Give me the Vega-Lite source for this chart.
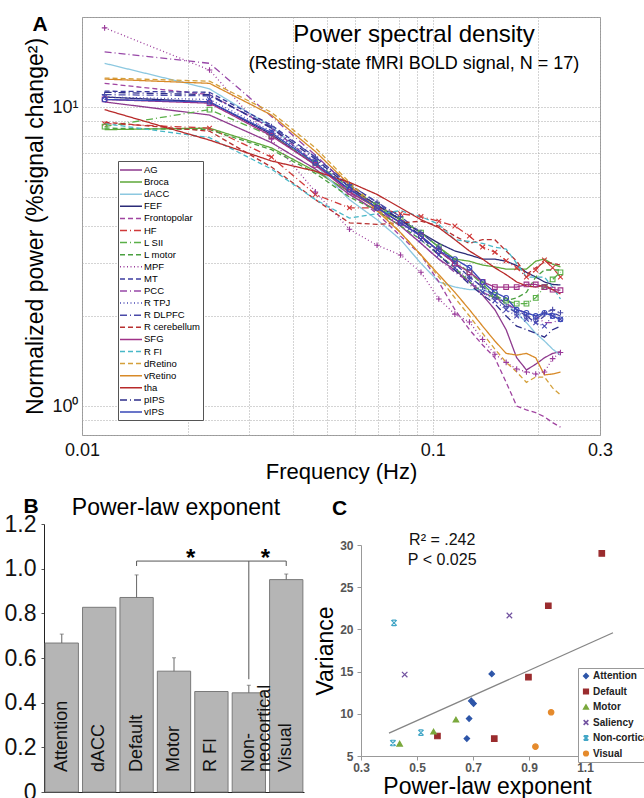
{
"$schema": "https://vega.github.io/schema/vega-lite/v6.json",
"padding": {"left": 2, "top": 7, "right": 0, "bottom": 0},
"background": "white",
"config": {"font": "Liberation Sans", "view": {"stroke": null}, "title": {"color": "black", "fontWeight": "normal"}, "axis": {"labelColor": "#111", "titleColor": "black", "titleFontWeight": "normal", "labelOverlap": false, "labelFlush": false}},
"datasets": {
"psd": [
{"r":"AG","f":0.0116,"p":10.4},{"r":"AG","f":0.0231,"p":9.4},{"r":"AG","f":0.0347,"p":7.6},{"r":"AG","f":0.0463,"p":6.2},{"r":"AG","f":0.0579,"p":5.1},{"r":"AG","f":0.0694,"p":4.5},{"r":"AG","f":0.081,"p":4.0},{"r":"AG","f":0.0926,"p":3.5},{"r":"AG","f":0.1041,"p":3.1},{"r":"AG","f":0.1157,"p":2.85},{"r":"AG","f":0.1273,"p":2.6},{"r":"AG","f":0.1388,"p":2.35},{"r":"AG","f":0.1504,"p":2.1},{"r":"AG","f":0.162,"p":1.8},{"r":"AG","f":0.1736,"p":1.45},{"r":"AG","f":0.1851,"p":1.32},{"r":"AG","f":0.1967,"p":1.38},{"r":"AG","f":0.2083,"p":1.45},{"r":"AG","f":0.2198,"p":1.5},{"r":"AG","f":0.2314,"p":1.52},
{"r":"Broca","f":0.0116,"p":8.4},{"r":"Broca","f":0.0231,"p":8.5},{"r":"Broca","f":0.0347,"p":7.3},{"r":"Broca","f":0.0463,"p":6.1},{"r":"Broca","f":0.0579,"p":5.2},{"r":"Broca","f":0.0694,"p":4.6},{"r":"Broca","f":0.081,"p":4.2},{"r":"Broca","f":0.0926,"p":3.8},{"r":"Broca","f":0.1041,"p":3.4},{"r":"Broca","f":0.1157,"p":3.1},{"r":"Broca","f":0.1273,"p":3.05},{"r":"Broca","f":0.1388,"p":2.96},{"r":"Broca","f":0.1504,"p":2.92},{"r":"Broca","f":0.162,"p":2.87},{"r":"Broca","f":0.1736,"p":2.87},{"r":"Broca","f":0.1851,"p":2.87},{"r":"Broca","f":0.1967,"p":3.05},{"r":"Broca","f":0.2083,"p":3.1},{"r":"Broca","f":0.2198,"p":2.98},{"r":"Broca","f":0.2314,"p":2.92},
{"r":"dACC","f":0.0116,"p":14.0},{"r":"dACC","f":0.0231,"p":11.5},{"r":"dACC","f":0.0347,"p":8.6},{"r":"dACC","f":0.0463,"p":6.4},{"r":"dACC","f":0.0579,"p":4.9},{"r":"dACC","f":0.0694,"p":4.2},{"r":"dACC","f":0.081,"p":3.6},{"r":"dACC","f":0.0926,"p":3.0},{"r":"dACC","f":0.1041,"p":2.6},{"r":"dACC","f":0.1157,"p":2.5},{"r":"dACC","f":0.1273,"p":2.45},{"r":"dACC","f":0.1388,"p":2.45},{"r":"dACC","f":0.1504,"p":2.35},{"r":"dACC","f":0.162,"p":2.2},{"r":"dACC","f":0.1736,"p":2.05},{"r":"dACC","f":0.1851,"p":1.9},{"r":"dACC","f":0.1967,"p":1.75},{"r":"dACC","f":0.2083,"p":1.65},{"r":"dACC","f":0.2198,"p":1.55},{"r":"dACC","f":0.2314,"p":1.48},
{"r":"FEF","f":0.0116,"p":10.8},{"r":"FEF","f":0.0231,"p":10.4},{"r":"FEF","f":0.0347,"p":8.1},{"r":"FEF","f":0.0463,"p":6.4},{"r":"FEF","f":0.0579,"p":5.3},{"r":"FEF","f":0.0694,"p":4.7},{"r":"FEF","f":0.081,"p":4.2},{"r":"FEF","f":0.0926,"p":3.8},{"r":"FEF","f":0.1041,"p":3.5},{"r":"FEF","f":0.1157,"p":3.3},{"r":"FEF","f":0.1273,"p":3.2},{"r":"FEF","f":0.1388,"p":3.1},{"r":"FEF","f":0.1504,"p":3.1},{"r":"FEF","f":0.162,"p":3.05},{"r":"FEF","f":0.1736,"p":2.95},{"r":"FEF","f":0.1851,"p":2.8},{"r":"FEF","f":0.1967,"p":2.7},{"r":"FEF","f":0.2083,"p":2.6},{"r":"FEF","f":0.2198,"p":2.55},{"r":"FEF","f":0.2314,"p":2.54},
{"r":"Frontopolar","f":0.0116,"p":12.0},{"r":"Frontopolar","f":0.0231,"p":11.0},{"r":"Frontopolar","f":0.0347,"p":8.5},{"r":"Frontopolar","f":0.0463,"p":6.5},{"r":"Frontopolar","f":0.0579,"p":5.2},{"r":"Frontopolar","f":0.0694,"p":4.4},{"r":"Frontopolar","f":0.081,"p":3.7},{"r":"Frontopolar","f":0.0926,"p":3.2},{"r":"Frontopolar","f":0.1041,"p":2.6},{"r":"Frontopolar","f":0.1157,"p":2.1},{"r":"Frontopolar","f":0.1273,"p":1.8},{"r":"Frontopolar","f":0.1388,"p":1.6},{"r":"Frontopolar","f":0.1504,"p":1.45},{"r":"Frontopolar","f":0.162,"p":1.2},{"r":"Frontopolar","f":0.1736,"p":1.0},{"r":"Frontopolar","f":0.1851,"p":0.97},{"r":"Frontopolar","f":0.1967,"p":0.95},{"r":"Frontopolar","f":0.2083,"p":0.92},{"r":"Frontopolar","f":0.2198,"p":0.88},{"r":"Frontopolar","f":0.2314,"p":0.85},
{"r":"HF","f":0.0116,"p":8.8},{"r":"HF","f":0.0231,"p":8.5},{"r":"HF","f":0.0347,"p":6.8},{"r":"HF","f":0.0463,"p":5.1},{"r":"HF","f":0.0579,"p":4.6},{"r":"HF","f":0.0694,"p":4.6},{"r":"HF","f":0.081,"p":4.4},{"r":"HF","f":0.0926,"p":4.3},{"r":"HF","f":0.1041,"p":4.15},{"r":"HF","f":0.1157,"p":4.0},{"r":"HF","f":0.1273,"p":3.7},{"r":"HF","f":0.1388,"p":3.4},{"r":"HF","f":0.1504,"p":3.27},{"r":"HF","f":0.162,"p":3.06},{"r":"HF","f":0.1736,"p":2.9},{"r":"HF","f":0.1851,"p":2.7},{"r":"HF","f":0.1967,"p":2.85},{"r":"HF","f":0.2083,"p":3.08},{"r":"HF","f":0.2198,"p":2.9},{"r":"HF","f":0.2314,"p":2.7},
{"r":"L SII","f":0.0116,"p":8.6},{"r":"L SII","f":0.0231,"p":9.8},{"r":"L SII","f":0.0347,"p":8.0},{"r":"L SII","f":0.0463,"p":6.5},{"r":"L SII","f":0.0579,"p":5.4},{"r":"L SII","f":0.0694,"p":4.7},{"r":"L SII","f":0.081,"p":4.2},{"r":"L SII","f":0.0926,"p":3.8},{"r":"L SII","f":0.1041,"p":3.4},{"r":"L SII","f":0.1157,"p":3.05},{"r":"L SII","f":0.1273,"p":2.8},{"r":"L SII","f":0.1388,"p":2.55},{"r":"L SII","f":0.1504,"p":2.35},{"r":"L SII","f":0.162,"p":2.25},{"r":"L SII","f":0.1736,"p":2.2},{"r":"L SII","f":0.1851,"p":2.2},{"r":"L SII","f":0.1967,"p":2.3},{"r":"L SII","f":0.2083,"p":2.5},{"r":"L SII","f":0.2198,"p":2.65},{"r":"L SII","f":0.2314,"p":2.8},
{"r":"L motor","f":0.0116,"p":8.5},{"r":"L motor","f":0.0231,"p":8.4},{"r":"L motor","f":0.0347,"p":7.2},{"r":"L motor","f":0.0463,"p":6.0},{"r":"L motor","f":0.0579,"p":5.0},{"r":"L motor","f":0.0694,"p":4.5},{"r":"L motor","f":0.081,"p":4.0},{"r":"L motor","f":0.0926,"p":3.6},{"r":"L motor","f":0.1041,"p":3.2},{"r":"L motor","f":0.1157,"p":2.9},{"r":"L motor","f":0.1273,"p":2.6},{"r":"L motor","f":0.1388,"p":2.4},{"r":"L motor","f":0.1504,"p":2.3},{"r":"L motor","f":0.162,"p":2.25},{"r":"L motor","f":0.1736,"p":2.3},{"r":"L motor","f":0.1851,"p":2.4},{"r":"L motor","f":0.1967,"p":2.7},{"r":"L motor","f":0.2083,"p":2.85},{"r":"L motor","f":0.2198,"p":2.85},{"r":"L motor","f":0.2314,"p":2.85},
{"r":"MPF","f":0.0116,"p":18.4},{"r":"MPF","f":0.0231,"p":13.3},{"r":"MPF","f":0.0347,"p":7.8},{"r":"MPF","f":0.0463,"p":5.2},{"r":"MPF","f":0.0579,"p":3.9},{"r":"MPF","f":0.0694,"p":3.45},{"r":"MPF","f":0.081,"p":3.2},{"r":"MPF","f":0.0926,"p":2.8},{"r":"MPF","f":0.1041,"p":2.28},{"r":"MPF","f":0.1157,"p":2.03},{"r":"MPF","f":0.1273,"p":1.91},{"r":"MPF","f":0.1388,"p":1.67},{"r":"MPF","f":0.1504,"p":1.49},{"r":"MPF","f":0.162,"p":1.4},{"r":"MPF","f":0.1736,"p":1.33},{"r":"MPF","f":0.1851,"p":1.3},{"r":"MPF","f":0.1967,"p":1.28},{"r":"MPF","f":0.2083,"p":1.3},{"r":"MPF","f":0.2198,"p":1.44},{"r":"MPF","f":0.2314,"p":1.51},
{"r":"MT","f":0.0116,"p":11.3},{"r":"MT","f":0.0231,"p":11.2},{"r":"MT","f":0.0347,"p":8.7},{"r":"MT","f":0.0463,"p":6.8},{"r":"MT","f":0.0579,"p":5.5},{"r":"MT","f":0.0694,"p":4.8},{"r":"MT","f":0.081,"p":4.2},{"r":"MT","f":0.0926,"p":3.7},{"r":"MT","f":0.1041,"p":3.3},{"r":"MT","f":0.1157,"p":3.0},{"r":"MT","f":0.1273,"p":2.7},{"r":"MT","f":0.1388,"p":2.5},{"r":"MT","f":0.1504,"p":2.35},{"r":"MT","f":0.162,"p":2.2},{"r":"MT","f":0.1736,"p":2.1},{"r":"MT","f":0.1851,"p":2.0},{"r":"MT","f":0.1967,"p":1.9},{"r":"MT","f":0.2083,"p":2.0},{"r":"MT","f":0.2198,"p":2.05},{"r":"MT","f":0.2314,"p":2.0},
{"r":"PCC","f":0.0116,"p":15.3},{"r":"PCC","f":0.0231,"p":14.0},{"r":"PCC","f":0.0347,"p":9.3},{"r":"PCC","f":0.0463,"p":6.9},{"r":"PCC","f":0.0579,"p":5.4},{"r":"PCC","f":0.0694,"p":4.6},{"r":"PCC","f":0.081,"p":4.0},{"r":"PCC","f":0.0926,"p":3.5},{"r":"PCC","f":0.1041,"p":3.1},{"r":"PCC","f":0.1157,"p":2.8},{"r":"PCC","f":0.1273,"p":2.6},{"r":"PCC","f":0.1388,"p":2.4},{"r":"PCC","f":0.1504,"p":2.3},{"r":"PCC","f":0.162,"p":2.2},{"r":"PCC","f":0.1736,"p":2.1},{"r":"PCC","f":0.1851,"p":2.05},{"r":"PCC","f":0.1967,"p":2.0},{"r":"PCC","f":0.2083,"p":1.9},{"r":"PCC","f":0.2198,"p":1.9},{"r":"PCC","f":0.2314,"p":1.95},
{"r":"R TPJ","f":0.0116,"p":10.8},{"r":"R TPJ","f":0.0231,"p":10.6},{"r":"R TPJ","f":0.0347,"p":8.3},{"r":"R TPJ","f":0.0463,"p":6.6},{"r":"R TPJ","f":0.0579,"p":5.4},{"r":"R TPJ","f":0.0694,"p":4.6},{"r":"R TPJ","f":0.081,"p":4.1},{"r":"R TPJ","f":0.0926,"p":3.6},{"r":"R TPJ","f":0.1041,"p":3.2},{"r":"R TPJ","f":0.1157,"p":2.9},{"r":"R TPJ","f":0.1273,"p":2.65},{"r":"R TPJ","f":0.1388,"p":2.4},{"r":"R TPJ","f":0.1504,"p":2.25},{"r":"R TPJ","f":0.162,"p":2.1},{"r":"R TPJ","f":0.1736,"p":2.0},{"r":"R TPJ","f":0.1851,"p":1.95},{"r":"R TPJ","f":0.1967,"p":1.9},{"r":"R TPJ","f":0.2083,"p":1.85},{"r":"R TPJ","f":0.2198,"p":2.0},{"r":"R TPJ","f":0.2314,"p":1.95},
{"r":"R DLPFC","f":0.0116,"p":11.0},{"r":"R DLPFC","f":0.0231,"p":10.9},{"r":"R DLPFC","f":0.0347,"p":8.6},{"r":"R DLPFC","f":0.0463,"p":6.8},{"r":"R DLPFC","f":0.0579,"p":5.5},{"r":"R DLPFC","f":0.0694,"p":4.8},{"r":"R DLPFC","f":0.081,"p":4.3},{"r":"R DLPFC","f":0.0926,"p":3.8},{"r":"R DLPFC","f":0.1041,"p":3.4},{"r":"R DLPFC","f":0.1157,"p":3.0},{"r":"R DLPFC","f":0.1273,"p":2.7},{"r":"R DLPFC","f":0.1388,"p":2.5},{"r":"R DLPFC","f":0.1504,"p":2.3},{"r":"R DLPFC","f":0.162,"p":2.15},{"r":"R DLPFC","f":0.1736,"p":2.05},{"r":"R DLPFC","f":0.1851,"p":2.0},{"r":"R DLPFC","f":0.1967,"p":1.95},{"r":"R DLPFC","f":0.2083,"p":2.05},{"r":"R DLPFC","f":0.2198,"p":2.1},{"r":"R DLPFC","f":0.2314,"p":2.05},
{"r":"R cerebellum","f":0.0116,"p":8.9},{"r":"R cerebellum","f":0.0231,"p":8.3},{"r":"R cerebellum","f":0.0347,"p":6.3},{"r":"R cerebellum","f":0.0463,"p":4.9},{"r":"R cerebellum","f":0.0579,"p":4.1},{"r":"R cerebellum","f":0.0694,"p":4.05},{"r":"R cerebellum","f":0.081,"p":4.1},{"r":"R cerebellum","f":0.0926,"p":4.15},{"r":"R cerebellum","f":0.1041,"p":4.0},{"r":"R cerebellum","f":0.1157,"p":3.7},{"r":"R cerebellum","f":0.1273,"p":3.5},{"r":"R cerebellum","f":0.1388,"p":3.6},{"r":"R cerebellum","f":0.1504,"p":3.6},{"r":"R cerebellum","f":0.162,"p":3.3},{"r":"R cerebellum","f":0.1736,"p":3.05},{"r":"R cerebellum","f":0.1851,"p":2.75},{"r":"R cerebellum","f":0.1967,"p":2.9},{"r":"R cerebellum","f":0.2083,"p":3.03},{"r":"R cerebellum","f":0.2198,"p":3.0},{"r":"R cerebellum","f":0.2314,"p":2.96},
{"r":"SFG","f":0.0116,"p":10.6},{"r":"SFG","f":0.0231,"p":10.3},{"r":"SFG","f":0.0347,"p":8.0},{"r":"SFG","f":0.0463,"p":6.4},{"r":"SFG","f":0.0579,"p":5.2},{"r":"SFG","f":0.0694,"p":4.6},{"r":"SFG","f":0.081,"p":4.1},{"r":"SFG","f":0.0926,"p":3.7},{"r":"SFG","f":0.1041,"p":3.3},{"r":"SFG","f":0.1157,"p":3.0},{"r":"SFG","f":0.1273,"p":2.8},{"r":"SFG","f":0.1388,"p":2.6},{"r":"SFG","f":0.1504,"p":2.5},{"r":"SFG","f":0.162,"p":2.5},{"r":"SFG","f":0.1736,"p":2.5},{"r":"SFG","f":0.1851,"p":2.55},{"r":"SFG","f":0.1967,"p":2.55},{"r":"SFG","f":0.2083,"p":2.5},{"r":"SFG","f":0.2198,"p":2.45},{"r":"SFG","f":0.2314,"p":2.44},
{"r":"R FI","f":0.0116,"p":8.8},{"r":"R FI","f":0.0231,"p":7.9},{"r":"R FI","f":0.0347,"p":6.2},{"r":"R FI","f":0.0463,"p":4.9},{"r":"R FI","f":0.0579,"p":4.25},{"r":"R FI","f":0.0694,"p":4.4},{"r":"R FI","f":0.081,"p":4.5},{"r":"R FI","f":0.0926,"p":4.3},{"r":"R FI","f":0.1041,"p":4.05},{"r":"R FI","f":0.1157,"p":3.6},{"r":"R FI","f":0.1273,"p":3.55},{"r":"R FI","f":0.1388,"p":3.5},{"r":"R FI","f":0.1504,"p":3.4},{"r":"R FI","f":0.162,"p":3.35},{"r":"R FI","f":0.1736,"p":3.0},{"r":"R FI","f":0.1851,"p":2.7},{"r":"R FI","f":0.1967,"p":2.7},{"r":"R FI","f":0.2083,"p":2.7},{"r":"R FI","f":0.2198,"p":2.5},{"r":"R FI","f":0.2314,"p":2.28},
{"r":"dRetino","f":0.0116,"p":12.5},{"r":"dRetino","f":0.0231,"p":12.2},{"r":"dRetino","f":0.0347,"p":9.6},{"r":"dRetino","f":0.0463,"p":7.3},{"r":"dRetino","f":0.0579,"p":5.6},{"r":"dRetino","f":0.0694,"p":4.6},{"r":"dRetino","f":0.081,"p":3.8},{"r":"dRetino","f":0.0926,"p":3.2},{"r":"dRetino","f":0.1041,"p":2.7},{"r":"dRetino","f":0.1157,"p":2.3},{"r":"dRetino","f":0.1273,"p":2.0},{"r":"dRetino","f":0.1388,"p":1.75},{"r":"dRetino","f":0.1504,"p":1.55},{"r":"dRetino","f":0.162,"p":1.4},{"r":"dRetino","f":0.1736,"p":1.3},{"r":"dRetino","f":0.1851,"p":1.2},{"r":"dRetino","f":0.1967,"p":1.25},{"r":"dRetino","f":0.2083,"p":1.25},{"r":"dRetino","f":0.2198,"p":1.15},{"r":"dRetino","f":0.2314,"p":1.09},
{"r":"vRetino","f":0.0116,"p":12.4},{"r":"vRetino","f":0.0231,"p":12.0},{"r":"vRetino","f":0.0347,"p":9.4},{"r":"vRetino","f":0.0463,"p":7.1},{"r":"vRetino","f":0.0579,"p":5.5},{"r":"vRetino","f":0.0694,"p":4.5},{"r":"vRetino","f":0.081,"p":3.8},{"r":"vRetino","f":0.0926,"p":3.2},{"r":"vRetino","f":0.1041,"p":2.75},{"r":"vRetino","f":0.1157,"p":2.4},{"r":"vRetino","f":0.1273,"p":2.1},{"r":"vRetino","f":0.1388,"p":1.85},{"r":"vRetino","f":0.1504,"p":1.65},{"r":"vRetino","f":0.162,"p":1.5},{"r":"vRetino","f":0.1736,"p":1.48},{"r":"vRetino","f":0.1851,"p":1.5},{"r":"vRetino","f":0.1967,"p":1.45},{"r":"vRetino","f":0.2083,"p":1.27},{"r":"vRetino","f":0.2198,"p":1.28},{"r":"vRetino","f":0.2314,"p":1.3},
{"r":"tha","f":0.0116,"p":9.8},{"r":"tha","f":0.0231,"p":7.75},{"r":"tha","f":0.0347,"p":6.6},{"r":"tha","f":0.0463,"p":6.1},{"r":"tha","f":0.0579,"p":5.6},{"r":"tha","f":0.0694,"p":5.1},{"r":"tha","f":0.081,"p":4.6},{"r":"tha","f":0.0926,"p":4.2},{"r":"tha","f":0.1041,"p":3.95},{"r":"tha","f":0.1157,"p":3.6},{"r":"tha","f":0.1273,"p":3.3},{"r":"tha","f":0.1388,"p":3.1},{"r":"tha","f":0.1504,"p":2.9},{"r":"tha","f":0.162,"p":2.75},{"r":"tha","f":0.1736,"p":2.6},{"r":"tha","f":0.1851,"p":2.52},{"r":"tha","f":0.1967,"p":2.5},{"r":"tha","f":0.2083,"p":2.54},{"r":"tha","f":0.2198,"p":2.45},{"r":"tha","f":0.2314,"p":2.37},
{"r":"pIPS","f":0.0116,"p":11.2},{"r":"pIPS","f":0.0231,"p":11.0},{"r":"pIPS","f":0.0347,"p":8.5},{"r":"pIPS","f":0.0463,"p":6.7},{"r":"pIPS","f":0.0579,"p":5.4},{"r":"pIPS","f":0.0694,"p":4.7},{"r":"pIPS","f":0.081,"p":4.2},{"r":"pIPS","f":0.0926,"p":3.7},{"r":"pIPS","f":0.1041,"p":3.2},{"r":"pIPS","f":0.1157,"p":2.85},{"r":"pIPS","f":0.1273,"p":2.55},{"r":"pIPS","f":0.1388,"p":2.35},{"r":"pIPS","f":0.1504,"p":2.2},{"r":"pIPS","f":0.162,"p":2.0},{"r":"pIPS","f":0.1736,"p":1.85},{"r":"pIPS","f":0.1851,"p":1.8},{"r":"pIPS","f":0.1967,"p":1.75},{"r":"pIPS","f":0.2083,"p":1.7},{"r":"pIPS","f":0.2198,"p":1.8},{"r":"pIPS","f":0.2314,"p":1.85},
{"r":"vIPS","f":0.0116,"p":10.6},{"r":"vIPS","f":0.0231,"p":10.4},{"r":"vIPS","f":0.0347,"p":8.2},{"r":"vIPS","f":0.0463,"p":6.5},{"r":"vIPS","f":0.0579,"p":5.3},{"r":"vIPS","f":0.0694,"p":4.6},{"r":"vIPS","f":0.081,"p":4.1},{"r":"vIPS","f":0.0926,"p":3.7},{"r":"vIPS","f":0.1041,"p":3.3},{"r":"vIPS","f":0.1157,"p":3.1},{"r":"vIPS","f":0.1273,"p":2.9},{"r":"vIPS","f":0.1388,"p":2.6},{"r":"vIPS","f":0.1504,"p":2.4},{"r":"vIPS","f":0.162,"p":2.3},{"r":"vIPS","f":0.1736,"p":2.1},{"r":"vIPS","f":0.1851,"p":2.05},{"r":"vIPS","f":0.1967,"p":2.0},{"r":"vIPS","f":0.2083,"p":2.05},{"r":"vIPS","f":0.2198,"p":2.0},{"r":"vIPS","f":0.2314,"p":1.95}
],
"bars": [
{"g":"Attention","v":0.667,"e":0.707,"lab":"Attention"},
{"g":"dACC","v":0.827,"e":null,"lab":"dACC"},
{"g":"Default","v":0.871,"e":0.972,"lab":"Default"},
{"g":"Motor","v":0.541,"e":0.601,"lab":"Motor"},
{"g":"R FI","v":0.45,"e":null,"lab":"R FI"},
{"g":"Non-neocortical","v":0.444,"e":0.478,"lab":"Non-\nneocortical"},
{"g":"Visual","v":0.951,"e":0.976,"lab":"Visual"}
],
"brkh": [{"a":"Default","b":"Visual","y1":1.034}],
"brkv": [{"a":"Default","y1":1.012,"y2":1.034},{"a":"Visual","y1":1.012,"y2":1.034},{"a":"Non-neocortical","y1":0.505,"y2":1.034}],
"star": [{"a":"Motor","s":"*"},{"a":"Non-neocortical","s":"*"}],
"sc": [
{"grp":"Attention","x":0.767,"y":14.73},{"grp":"Attention","x":0.694,"y":11.53},{"grp":"Attention","x":0.702,"y":11.21},{"grp":"Attention","x":0.686,"y":9.43},{"grp":"Attention","x":0.678,"y":7.06},
{"grp":"Default","x":1.16,"y":29.0},{"grp":"Default","x":0.969,"y":22.8},{"grp":"Default","x":0.898,"y":14.34},{"grp":"Default","x":0.776,"y":7.06},{"grp":"Default","x":0.573,"y":7.37},
{"grp":"Motor","x":0.639,"y":9.31},{"grp":"Motor","x":0.559,"y":7.89},{"grp":"Motor","x":0.438,"y":6.46},
{"grp":"Saliency","x":0.83,"y":21.65},{"grp":"Saliency","x":0.456,"y":14.65},
{"grp":"Non-cortical","x":0.418,"y":20.78},{"grp":"Non-cortical","x":0.514,"y":7.77},{"grp":"Non-cortical","x":0.414,"y":6.54},
{"grp":"Visual","x":0.979,"y":10.18},{"grp":"Visual","x":0.923,"y":6.11}
],
"fit": [{"x":0.4,"y":7.7},{"x":1.2,"y":19.6}],
"ann": [{"t":"R² = .242","x":0.59,"y":30.6},{"t":"P < 0.025","x":0.59,"y":28.2}]
},
"title": {"text": "A", "anchor": "start", "fontSize": 21, "fontWeight": "bold", "dx": 30, "offset": -27},
"columns": 1,
"spacing": 12,
"align": "none",
"resolve": {"scale": {"color": "independent", "strokeDash": "independent", "stroke": "independent", "shape": "independent"}, "legend": {"color": "independent", "strokeDash": "independent", "stroke": "independent", "shape": "independent"}},
"concat": [
{
"width": 518, "height": 418,
"view": {"stroke": "#999"},
"title": {"text": "Power spectral density", "subtitle": "(Resting-state fMRI BOLD signal, N = 17)", "fontSize": 24, "subtitleFontSize": 18, "subtitleColor": "black", "subtitleFont": "Liberation Sans", "anchor": "middle", "dx": 73, "offset": -65, "subtitlePadding": 8},
"layer": [
{"data": {"name": "psd"},
 "mark": {"type": "line", "strokeWidth": 1.3, "clip": true},
 "encoding": {
  "x": {"field": "f", "type": "quantitative", "scale": {"type": "log", "domain": [0.01, 0.3], "nice": false},
   "axis": {"values": [0.01,0.02,0.03,0.04,0.05,0.06,0.07,0.08,0.09,0.1,0.2,0.3], "labelExpr": "datum.value == 0.01 ? '0.01' : datum.value == 0.1 ? '0.1' : datum.value == 0.3 ? '0.3' : ''", "title": "Frequency (Hz)", "titleFontSize": 22, "titlePadding": 2, "labelFontSize": 18, "labelPadding": 6, "ticks": false, "domain": false, "grid": true, "gridDash": [1,2], "gridColor": "#a8a8a8"}},
  "y": {"field": "p", "type": "quantitative", "scale": {"type": "log", "domain": [0.8, 20], "nice": false},
   "axis": {"values": [0.8,0.9,1,2,3,4,5,6,7,8,9,10,20], "labelExpr": "datum.value == 1 ? '10⁰' : datum.value == 10 ? '10¹' : ''", "title": ["", "Normalized power (%signal change²)"], "titleFontSize": 23, "titleLineHeight": 22, "titlePadding": 4, "labelFontSize": 18, "labelPadding": 4, "ticks": false, "domain": false, "grid": true, "gridDash": [1,2], "gridColor": "#a8a8a8"}},
  "color": {"field": "r", "type": "nominal",
   "scale": {"domain": ["AG","Broca","dACC","FEF","Frontopolar","HF","L SII","L motor","MPF","MT","PCC","R TPJ","R DLPFC","R cerebellum","SFG","R FI","dRetino","vRetino","tha","pIPS","vIPS"],
    "range": ["#8e3a8e","#5fa83a","#8cc8e0","#2b2b78","#a044a0","#d03a3a","#5ab048","#4aa040","#9a3a9a","#3c3ca0","#9848a8","#4848b4","#4a4aa8","#b83030","#a03288","#48b8c8","#d4a03a","#d88a28","#b82a2a","#2e2e8a","#3848b8"]},
   "legend": {"orient": "none", "legendX": 36, "legendY": 144, "title": null, "symbolType": "M-2.2,0L2.2,0", "symbolSize": 100, "symbolStrokeWidth": 1.5, "labelFontSize": 9.5, "labelColor": "black", "rowPadding": 1.1, "padding": 3, "strokeColor": "#555", "fillColor": "white", "labelOffset": 7, "symbolOffset": 4, "labelLimit": 200}},
  "strokeDash": {"field": "r", "type": "nominal",
   "scale": {"domain": ["AG","Broca","dACC","FEF","Frontopolar","HF","L SII","L motor","MPF","MT","PCC","R TPJ","R DLPFC","R cerebellum","SFG","R FI","dRetino","vRetino","tha","pIPS","vIPS"],
    "range": [[1,0],[1,0],[1,0],[1,0],[5,3],[7,3,1,3],[7,3,1,3],[5,3],[1,2.5],[5,3],[7,3,1,3],[1,2.5],[7,3,1,3],[5,3],[1,0],[5,3],[5,3],[1,0],[1,0],[7,3,1,3],[1,0]]},
   "legend": {"orient": "none", "legendX": 36, "legendY": 144, "title": null, "symbolType": "M-2.2,0L2.2,0", "symbolSize": 100, "symbolStrokeWidth": 1.5, "labelFontSize": 9.5, "labelColor": "black", "rowPadding": 1.1, "padding": 3, "strokeColor": "#555", "fillColor": "white", "labelOffset": 7, "symbolOffset": 4, "labelLimit": 200}}
 }},
{"data": {"name": "psd"},
 "transform": [{"filter": {"field": "r", "oneOf": ["HF","L SII","MPF","R TPJ","R DLPFC","SFG","vIPS"]}}],
 "mark": {"type": "point", "filled": false, "size": 22, "strokeWidth": 1.1, "opacity": 1, "clip": true},
 "encoding": {
  "x": {"field": "f", "type": "quantitative", "scale": {"type": "log", "domain": [0.01, 0.3], "nice": false}},
  "y": {"field": "p", "type": "quantitative", "scale": {"type": "log", "domain": [0.8, 20], "nice": false}},
  "stroke": {"field": "r", "type": "nominal", "legend": null,
   "scale": {"domain": ["HF","L SII","MPF","R TPJ","R DLPFC","SFG","vIPS"], "range": ["#d03a3a","#5ab048","#9a3a9a","#4848b4","#4a4aa8","#a03288","#3848b8"]}},
  "shape": {"field": "r", "type": "nominal", "legend": null,
   "scale": {"domain": ["HF","L SII","MPF","R TPJ","R DLPFC","SFG","vIPS"], "range": ["M-1,-1L1,1M-1,1L1,-1","square","M-1.2,0L1.2,0M0,-1.2L0,1.2","M-1,-1L1,1M-1,1L1,-1","M-1.2,0L1.2,0M0,-1.2L0,1.2","square","circle"]}}
 }}
]
},
{
"columns": 2,
"spacing": -28,
"align": "none",
"resolve": {"scale": {"color": "independent", "stroke": "independent", "shape": "independent"}, "legend": {"color": "independent", "stroke": "independent", "shape": "independent"}},
"concat": [
{
"width": 222, "height": 268,
"title": {"text": "Power-law exponent", "fontSize": 23, "anchor": "middle", "offset": -25, "dx": -17},
"layer": [
{"data": {"name": "bars"},
 "mark": {"type": "bar", "fill": "#b5b5b5", "stroke": "#7a7a7a", "strokeWidth": 1},
 "encoding": {
  "x": {"field": "g", "type": "nominal", "sort": null, "scale": {"domain": ["Attention","dACC","Default","Motor","R FI","Non-neocortical","Visual"], "range": [-38, 222], "paddingInner": 0.11, "paddingOuter": 0.03}, "axis": {"title": null, "labels": false, "ticks": false, "domainColor": "#222"}},
  "y": {"field": "v", "type": "quantitative", "scale": {"domain": [0, 1.2], "nice": false},
   "axis": {"offset": 38, "title": "B", "titleAngle": 0, "titleFontWeight": "bold", "titleFontSize": 21, "titleX": -21, "titleY": -12, "titleAlign": "left", "titleBaseline": "alphabetic", "grid": false, "values": [0,0.2,0.4,0.6,0.8,1,1.2],
    "labelExpr": "datum.value == 0 ? '0' : format(datum.value, '.1f')",
    "tickSize": 3, "labelFontSize": 23, "labelPadding": 5, "domainColor": "#222", "tickColor": "#555"}}
 }},
{"data": {"name": "bars"}, "transform": [{"filter": "isValid(datum.e)"}],
 "mark": {"type": "rule", "color": "#666", "strokeWidth": 1},
 "encoding": {"x": {"field": "g", "type": "nominal", "bandPosition": 0.5}, "y": {"field": "v", "type": "quantitative"}, "y2": {"field": "e"}}},
{"data": {"name": "bars"}, "transform": [{"filter": "isValid(datum.e)"}],
 "mark": {"type": "tick", "orient": "horizontal", "size": 4, "thickness": 1, "color": "#666"},
 "encoding": {"x": {"field": "g", "type": "nominal"}, "y": {"field": "e", "type": "quantitative"}}},
{"data": {"name": "bars"},
 "mark": {"type": "text", "angle": 270, "align": "left", "baseline": "middle", "fontSize": 18, "lineBreak": "\n", "lineHeight": 16, "color": "#111"},
 "encoding": {"x": {"field": "g", "type": "nominal"}, "y": {"datum": 0.09}, "text": {"field": "lab"}}},
{"data": {"name": "brkh"},
 "mark": {"type": "rule", "color": "#555", "strokeWidth": 1},
 "encoding": {"x": {"field": "a", "type": "nominal", "bandPosition": 0.5}, "x2": {"field": "b", "bandPosition": 0.5}, "y": {"field": "y1", "type": "quantitative"}}},
{"data": {"name": "brkv"},
 "mark": {"type": "rule", "color": "#555", "strokeWidth": 1},
 "encoding": {"x": {"field": "a", "type": "nominal", "bandPosition": 0.5}, "y": {"field": "y1", "type": "quantitative"}, "y2": {"field": "y2"}}},
{"data": {"name": "star"},
 "mark": {"type": "text", "fontSize": 24, "fontWeight": "bold", "baseline": "alphabetic", "align": "center", "color": "black"},
 "encoding": {"x": {"field": "a", "type": "nominal", "bandPosition": 1}, "y": {"datum": 1.01}, "text": {"field": "s"}}}
]
},
{
"width": 252, "height": 232,
"title": {"text": "C", "anchor": "start", "frame": "group", "fontSize": 21, "fontWeight": "bold", "dx": -29, "offset": 5},
"layer": [
{"data": {"name": "fit"},
 "mark": {"type": "line", "color": "#858585", "strokeWidth": 1.3},
 "encoding": {
  "x": {"field": "x", "type": "quantitative", "scale": {"domain": [0.3, 1.2], "nice": false, "zero": false},
   "axis": {"values": [0.3,0.5,0.7,0.9,1.1], "format": ".1f", "title": "Power-law exponent", "titleFontSize": 23, "titlePadding": 2, "labelFontSize": 12, "labelFontWeight": "bold", "labelColor": "#555", "domainColor": "#999", "tickColor": "#999", "tickSize": 4, "labelPadding": 2, "grid": false}},
  "y": {"field": "y", "type": "quantitative", "scale": {"domain": [5, 30], "range": [232, 21], "nice": false, "zero": false},
   "axis": {"values": [5,10,15,20,25,30], "title": "Variance", "titleFontSize": 23, "titlePadding": 2, "labelFontSize": 12, "labelFontWeight": "bold", "labelColor": "#555", "domainColor": "#999", "tickColor": "#999", "tickSize": 4, "labelPadding": 4, "grid": false}}
 }},
{"data": {"name": "sc"},
 "mark": {"type": "point", "filled": true, "size": 30, "strokeWidth": 1.2, "opacity": 1},
 "encoding": {
  "x": {"field": "x", "type": "quantitative"},
  "y": {"field": "y", "type": "quantitative"},
  "color": {"field": "grp", "type": "nominal", "scale": {"domain": ["Attention","Default","Motor","Saliency","Non-cortical","Visual"], "range": ["#2d55a8","#9a2c2e","#7aa83c","#7252a0","#42a6c6","#e58a2c"]},
   "legend": {"orient": "none", "legendX": 217, "legendY": 144, "title": null, "labelFontSize": 10, "labelFontWeight": "bold", "labelColor": "#222", "symbolSize": 22, "strokeColor": "#999", "fillColor": "white", "padding": 3, "rowPadding": 3.5, "labelOffset": 2}},
  "stroke": {"field": "grp", "type": "nominal", "scale": {"domain": ["Attention","Default","Motor","Saliency","Non-cortical","Visual"], "range": ["#2d55a8","#9a2c2e","#7aa83c","#7252a0","#42a6c6","#e58a2c"]},
   "legend": {"orient": "none", "legendX": 217, "legendY": 144, "title": null, "labelFontSize": 10, "labelFontWeight": "bold", "labelColor": "#222", "symbolSize": 22, "strokeColor": "#999", "fillColor": "white", "padding": 3, "rowPadding": 3.5, "labelOffset": 2}},
  "shape": {"field": "grp", "type": "nominal", "scale": {"domain": ["Attention","Default","Motor","Saliency","Non-cortical","Visual"], "range": ["diamond","square","triangle-up","M-1,-1L1,1M-1,1L1,-1","M-1,-1L1,1M-1,1L1,-1M-0.7,-1L0.7,-1M-0.7,1L0.7,1","circle"]},
   "legend": {"orient": "none", "legendX": 217, "legendY": 144, "title": null, "labelFontSize": 10, "labelFontWeight": "bold", "labelColor": "#222", "symbolSize": 22, "strokeColor": "#999", "fillColor": "white", "padding": 3, "rowPadding": 3.5, "labelOffset": 2}}
 }},
{"data": {"name": "ann"},
 "mark": {"type": "text", "fontSize": 16, "align": "center", "baseline": "middle", "color": "#111"},
 "encoding": {"x": {"field": "x", "type": "quantitative"}, "y": {"field": "y", "type": "quantitative"}, "text": {"field": "t"}}}
]
}
]
}
]
}
